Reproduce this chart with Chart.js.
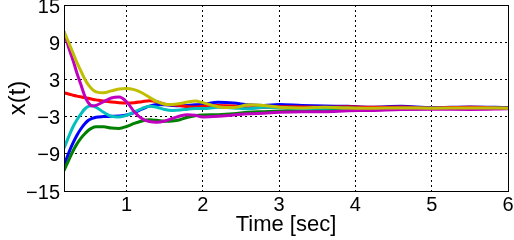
<!DOCTYPE html>
<html><head><meta charset="utf-8">
<script src="https://cdn.jsdelivr.net/npm/chart.js@4/dist/chart.umd.min.js"></script>
<style>html,body{margin:0;padding:0;background:#fff;overflow:hidden}#wrap{width:514px;height:240px}</style>
</head><body><div id="wrap"><canvas id="c" width="514" height="240"></canvas></div>
<script>
// Time axis (seconds)
const TIME = [0.18,0.25,0.3,0.35,0.4,0.45,0.5,0.55,0.6,0.7,0.8,0.9,1.0,1.1,1.2,1.3,1.4,1.5,1.6,1.7,1.8,1.9,2.0,2.2,2.4,2.6,2.8,3.0,3.3,3.6,3.9,4.2,4.6,5.0,5.5,6.0];
// State trajectories x(t)
const X_BLUE    = [-10.9,-8.6,-7.2,-6.0,-5.0,-4.2,-3.6,-3.3,-3.1,-3.0,-2.95,-2.9,-2.75,-2.35,-1.8,-1.3,-1.05,-1.1,-1.2,-1.25,-1.2,-1.1,-1.0,-0.7,-0.8,-1.1,-1.2,-1.05,-1.2,-1.3,-1.35,-1.5,-1.35,-1.55,-1.45,-1.55];
const X_GREEN   = [-11.7,-9.8,-8.5,-7.4,-6.5,-5.8,-5.2,-4.8,-4.65,-4.65,-4.85,-4.9,-4.6,-4.1,-3.7,-3.5,-3.6,-3.75,-3.7,-3.5,-3.1,-2.85,-2.75,-2.7,-2.55,-2.3,-2.2,-2.1,-1.95,-1.9,-1.85,-1.75,-1.75,-1.7,-1.7,-1.7];
const X_RED     = [0.85,0.6,0.45,0.3,0.2,0.05,-0.05,-0.2,-0.3,-0.5,-0.65,-0.75,-0.8,-0.75,-0.6,-0.45,-0.6,-1.0,-1.1,-1.2,-1.4,-1.45,-1.35,-1.2,-1.3,-1.6,-1.55,-1.4,-1.45,-1.5,-1.4,-1.5,-1.45,-1.6,-1.5,-1.6];
const X_CYAN    = [-8.1,-6.0,-4.6,-3.5,-2.6,-1.8,-1.35,-1.2,-1.5,-2.3,-2.95,-3.05,-2.8,-2.25,-1.7,-1.35,-1.5,-1.85,-2.0,-1.95,-1.8,-1.7,-1.7,-1.5,-1.6,-1.75,-1.5,-1.55,-1.7,-1.65,-1.6,-1.7,-1.65,-1.65,-1.7,-1.65];
const X_MAGENTA = [10.7,7.8,6.0,4.0,2.2,0.4,-0.8,-1.3,-1.2,-0.6,0.0,0.15,-0.6,-2.2,-3.3,-3.8,-3.9,-3.7,-3.3,-2.9,-2.7,-2.8,-3.05,-2.95,-2.75,-2.55,-2.45,-2.3,-2.2,-2.2,-2.05,-2.0,-1.85,-1.8,-1.85,-1.75];
const X_YELLOW  = [10.7,8.7,7.2,5.7,4.4,3.1,2.1,1.4,1.0,0.85,1.15,1.45,1.55,1.35,0.85,0.1,-0.6,-1.0,-1.05,-0.9,-0.65,-0.5,-0.75,-1.4,-1.55,-1.1,-1.2,-1.5,-1.6,-1.5,-1.6,-1.65,-1.6,-1.65,-1.6,-1.65];
const SERIES = [X_BLUE, X_GREEN, X_RED, X_CYAN, X_MAGENTA, X_YELLOW];
const COLORS = ['#0000ff','#008000','#ff0000','#00bfbf','#bf00bf','#bfbf00'];
const X_TICKS = [1,2,3,4,5,6];
const Y_TICKS = [-15,-9,-3,3,9,15];
const X_MIN = 0.18, X_MAX = 6, Y_MIN = -15, Y_MAX = 15;

const FONT = 'Liberation Sans, Arial, Helvetica, sans-serif';

// MATLAB draws later series on top; Chart.js draws first dataset on top -> reverse
const datasets = SERIES.map((vals, i) => ({
  data: TIME.map((t, k) => ({x: t, y: vals[k]})),
  borderColor: COLORS[i],
  backgroundColor: COLORS[i],
  borderWidth: 3,
  pointRadius: 0,
  tension: 0.4,
  cubicInterpolationMode: 'monotone',
  fill: false
})).reverse();

const boxPlugin = {
  id: 'box',
  afterDatasetsDraw(chart) {
    const {ctx, chartArea: a} = chart;
    ctx.save();
    ctx.strokeStyle = '#000';
    ctx.lineWidth = 1;
    ctx.strokeRect(a.left + 0.5, a.top + 0.5, a.right - a.left, a.bottom - a.top);
    ctx.restore();
  }
};

new Chart(document.getElementById('c'), {
  type: 'line',
  data: {datasets},
  plugins: [boxPlugin],
  options: {
    responsive: false,
    animation: false,
    devicePixelRatio: 1,
    layout: {padding: {top: 5, right: 6, left: 0, bottom: 0}},
    plugins: {legend: {display: false}, tooltip: {enabled: false}},
    scales: {
      x: {
        type: 'linear', min: X_MIN, max: X_MAX,
        afterBuildTicks: s => { s.ticks = X_TICKS.map(v => ({value: v})); },
        afterFit: s => { s.height = 49; s.paddingLeft = 0; s.paddingRight = 0; },
        ticks: {color: '#000', font: {family: FONT, size: 20}, padding: 2, maxRotation: 0,
                callback: v => String(v)},
        grid: {color: '#000', lineWidth: 1, drawTicks: false},
        border: {display: true, color: '#000', width: 1, dash: [2, 3]},
        title: {display: true, text: 'Time [sec]', color: '#000', font: {family: FONT, size: 22}, padding: {top: 0, bottom: 2}}
      },
      y: {
        type: 'linear', min: Y_MIN, max: Y_MAX,
        afterBuildTicks: s => { s.ticks = Y_TICKS.map(v => ({value: v})); },
        afterFit: s => { s.width = 64; s.paddingTop = 0; s.paddingBottom = 0; },
        ticks: {color: '#000', font: {family: FONT, size: 20, lineHeight: '4px'}, padding: 4,
                callback: v => ['', String(v).replace('-', '\u2212')]},
        grid: {color: '#000', lineWidth: 1, drawTicks: false},
        border: {display: true, color: '#000', width: 1, dash: [2, 3]},
        title: {display: true, text: 'x(t)', color: '#000', font: {family: FONT, size: 24}, padding: {top: 4, bottom: 0}}
      }
    }
  }
});
</script>
</body></html>
